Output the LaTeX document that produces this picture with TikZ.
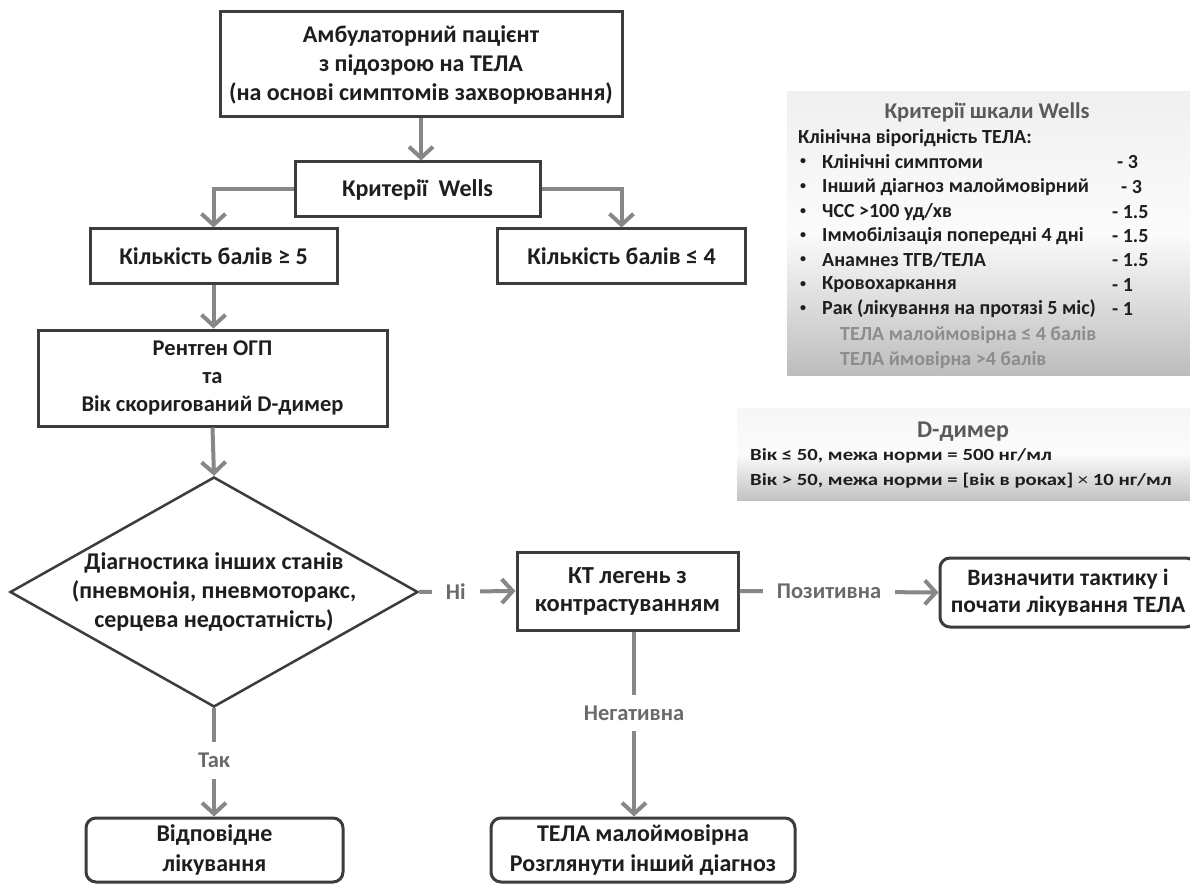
\documentclass[tikz,border=0pt]{standalone}
\usepackage{fontspec}
\setmainfont{Carlito}
\newfontfamily\dimfont{Carlito}[FakeStretch=1.22]
\usetikzlibrary{arrows.meta,shapes.geometric}
\definecolor{boxline}{HTML}{3C3C3C}
\definecolor{arrgray}{HTML}{878787}
\definecolor{lblgray}{HTML}{6A6A6A}
\definecolor{titlegray}{HTML}{5A5A5A}
\definecolor{notegray}{HTML}{8C8C8C}
\definecolor{txt}{HTML}{1E1E1E}
\begin{document}
\begin{tikzpicture}[x=1pt,y=-1pt,
  font=\bfseries\fontsize{24}{29}\selectfont,
  box/.style={draw=boxline, line width=3pt, align=center, inner sep=0pt, fill=white, text=txt},
  rbox/.style={box, rounded corners=10pt},
  arr/.style={draw=arrgray, line width=4pt, -{Straight Barb[length=11pt,width=24pt]}},
  lbl/.style={fill=white, text=lblgray, inner xsep=14pt, inner ysep=11pt, font=\bfseries\fontsize{22.5}{27}\selectfont},
  ptxt/.style={font=\bfseries\fontsize{20}{24}\selectfont, text=txt, inner sep=0pt},
  dtxt/.style={font=\dimfont\bfseries\fontsize{17}{22}\selectfont, text=txt, inner sep=0pt},
  pbul/.style={font=\bfseries\fontsize{12}{12}\selectfont, text=txt, inner sep=0pt},
  ptitle/.style={font=\bfseries\fontsize{22.5}{26}\selectfont, text=titlegray, inner sep=0pt},
  pnote/.style={font=\bfseries\fontsize{20}{24}\selectfont, text=notegray, inner sep=0pt}
]
\useasboundingbox (0,0) rectangle (1190,885);
\fill[white] (0,0) rectangle (1190,885);

% side panels
\shade[top color=gray!12, bottom color=gray!52, middle color=white!97!gray] (787,92) rectangle (1190,375);
\shade[top color=gray!7, bottom color=gray!48, middle color=white!97!gray] (737,408) rectangle (1190,500);

% flow nodes
\node[box, minimum width=402pt, minimum height=105pt] (top) at (421,64.5)
  {Амбулаторний пацієнт\\ з підозрою на ТЕЛА\\ (на основі симптомів захворювання)};
\node[box, minimum width=245pt, minimum height=55pt] (wells) at (417.5,189.5) {Критерії\ \ Wells};
\node[box, minimum width=247pt, minimum height=54pt] (b5) at (213.5,256) {Кількість балів ≥ 5};
\node[box, minimum width=248pt, minimum height=54pt] (b4) at (621.5,256) {Кількість балів ≤ 4};
\node[box, minimum width=349pt, minimum height=96pt,
  font=\bfseries\fontsize{22.5}{28}\selectfont] (rtg) at (212.5,378)
  {Рентген ОГП\\ та\\ Вік скоригований D-димер};
\node[diamond, draw=boxline, line width=2.5pt, fill=white, inner sep=0pt,
  minimum width=408pt, minimum height=230pt] (dia) at (214,592) {};
\node[align=center, text=txt, inner sep=0pt] (diatext) at (214,592)
  {Діагностика інших станів\\ (пневмонія, пневмоторакс,\\ серцева недостатність)};
\node[box, minimum width=221pt, minimum height=78pt,
  font=\bfseries\fontsize{24.5}{28}\selectfont] (kt) at (627.5,591)
  {КТ легень з\\ контрастуванням};
\node[rbox, minimum width=256pt, minimum height=69pt,
  font=\bfseries\fontsize{23.5}{27}\selectfont] (pos) at (1068,592.5)
  {Визначити тактику і\\ почати лікування ТЕЛА};
\node[rbox, minimum width=257pt, minimum height=64pt, font=\bfseries\fontsize{24}{30}\selectfont] (vid) at (214.5,850)
  {Відповідне\\ лікування};
\node[rbox, minimum width=304pt, minimum height=64pt, font=\bfseries\fontsize{24}{30}\selectfont] (tela) at (643,850)
  {ТЕЛА малоймовірна\\ Розглянути інший діагноз};

% connectors
\draw[arr] (top.south) -- (top.south |- wells.north);
\draw[arr] (wells.west) -| (b5.north);
\draw[arr] (wells.east) -| (b4.north);
\draw[arr] (b5.south) -- (b5.south |- rtg.north);
\draw[arr] (rtg.south) -- (dia.north);
\draw[arr] (dia.east) -- node[lbl, pos=0.38] {Ні} (kt.west);
\draw[arr] (kt.east) -- node[lbl, pos=0.45] {Позитивна} (pos.west);
\draw[arr] ([xshift=6.5pt]kt.south) -- node[lbl, pos=0.44] {Негативна} ([xshift=6.5pt]kt.south |- tela.north);
\draw[arr] (dia.south) -- node[lbl, pos=0.48] {Так} (dia.south |- vid.north);

% Wells panel text
\node[ptitle] (wt) at (987,112) {Критерії шкали Wells};
\node[ptxt, anchor=west] (wsub) at (798,138) {Клінічна вірогідність ТЕЛА:};
\foreach \y/\t/\v/\vx [count=\i] in {
  162/{Клінічні симптоми}/{- 3}/1117,
  187/{Інший діагноз малоймовірний}/{- 3}/1121,
  212/{ЧСС >100 уд/хв}/{- 1.5}/1112,
  236/{Іммобілізація попередні 4 дні}/{- 1.5}/1112,
  260/{Анамнез ТГВ/ТЕЛА}/{- 1.5}/1112,
  285/{Кровохаркання}/{- 1}/1112,
  309/{Рак (лікування на протязі 5 міс)}/{- 1}/1112} {
  \node[pbul] (wb\i) at (803,\y) {•};
  \node[ptxt, anchor=west] (wi\i) at (822,\y) {\t};
  \node[ptxt, anchor=west] (wv\i) at (\vx,\y) {\v};
}
\node[pnote, anchor=west] (wn1) at (840,335) {ТЕЛА малоймовірна ≤ 4 балів};
\node[pnote, anchor=west] (wn2) at (840,360) {ТЕЛА ймовірна >4 балів};

% D-dimer panel text
\node[ptitle, font=\bfseries\fontsize{24}{28}\selectfont] (dt) at (963,432) {D-димер};
\node[dtxt, anchor=west] (d1) at (750,456) {Вік ≤ 50, межа норми = 500 нг/мл};
\node[dtxt, anchor=west] (d2) at (750,481) {Вік > 50, межа норми = [вік в роках] {\mdseries ×} 10 нг/мл};
\end{tikzpicture}
\end{document}
